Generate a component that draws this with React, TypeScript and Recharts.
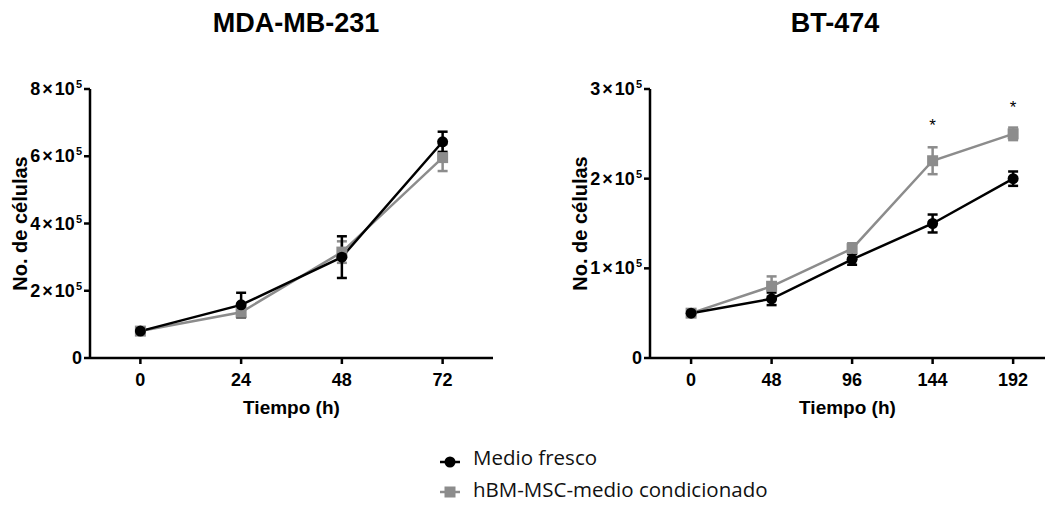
import React from 'react';
import { ComposedChart, Line, Scatter, XAxis, YAxis, ErrorBar, Label } from 'recharts';

// MDA-MB-231
const mdaHours = [0, 24, 48, 72];
const mdaFresco = [80000, 158000, 300000, 643000];
const mdaFrescoErr = [5000, 36000, 62000, 30000];
const mdaCond = [80000, 136000, 315000, 596000];
const mdaCondErr = [5000, 16000, 32000, 40000];

// BT-474
const btHours = [0, 48, 96, 144, 192];
const btFresco = [50000, 66000, 110000, 150000, 200000];
const btFrescoErr = [3000, 7000, 6000, 10000, 8000];
const btCond = [50000, 80000, 122000, 220000, 250000];
const btCondErr = [3000, 11000, 6000, 15000, 7000];
// significance marks (*) placed above the conditioned series
const btStars = [
  { t: 144, y: 263000 },
  { t: 192, y: 283000 },
];

const mdaTicksY = [0, 200000, 400000, 600000, 800000];
const btTicksY = [0, 100000, 200000, 300000];

const BLACK = '#000';
const GREY = '#8c8c8c';
const FONT = '"Liberation Sans", Arial, sans-serif';

const mdaData = mdaHours.map((t, i) => ({
  t,
  fresco: mdaFresco[i],
  frescoErr: mdaFrescoErr[i],
  cond: mdaCond[i],
  condErr: mdaCondErr[i],
}));

const btData = btHours.map((t, i) => ({
  t,
  fresco: btFresco[i],
  frescoErr: btFrescoErr[i],
  cond: btCond[i],
  condErr: btCondErr[i],
}));

const SciTick = (props: any) => {
  const { x, y, payload } = props;
  const v = payload.value;
  if (v === 0) {
    return (
      <text x={x} y={y} dy={6} textAnchor="end" fontSize={18} fontWeight="bold" fill="#000" fontFamily={FONT}>
        0
      </text>
    );
  }
  return (
    <text x={x} y={y} dy={6} textAnchor="end" fontSize={18} fontWeight="bold" fill="#000" fontFamily={FONT}>
      <tspan>{`${v / 100000}`}</tspan>
      <tspan dx={2}>×</tspan>
      <tspan dx={2}>10</tspan>
      <tspan dx={1} dy={-7} fontSize={11}>5</tspan>
    </text>
  );
};

const CircleDot = (props: any) => {
  const { cx, cy, key } = props;
  if (cx == null || cy == null) return null;
  return <circle key={key} cx={cx} cy={cy} r={5.5} fill={BLACK} />;
};

const SquareDot = (props: any) => {
  const { cx, cy, key } = props;
  if (cx == null || cy == null) return null;
  return <rect key={key} x={cx - 5.5} y={cy - 5.5} width={11} height={11} fill={GREY} />;
};

const StarShape = (props: any) => {
  const { cx, cy } = props;
  return (
    <text x={cx} y={cy + 9} textAnchor="middle" fontSize={17} fill="#000" fontFamily={FONT}>
      *
    </text>
  );
};

const axisProps = {
  axisLine: { stroke: '#000', strokeWidth: 2.5 },
  tickLine: { stroke: '#000', strokeWidth: 2.5 },
  tickSize: 6,
};

const xTick = { fill: '#000', fontSize: 18, fontWeight: 'bold', fontFamily: FONT };
const labelStyle = { fill: '#000', fontWeight: 'bold', fontFamily: FONT };

function Panel(props: {
  data: any[];
  xDomain: number[];
  xTicks: number[];
  yMax: number;
  yTicks: number[];
  width: number;
  right: number;
  stars?: any[];
}) {
  const { data, xDomain, xTicks, yMax, yTicks, width, right, stars } = props;
  return (
    <ComposedChart width={width} height={420} data={data} margin={{ top: 89, right, left: 0, bottom: 0 }}>
      <XAxis
        dataKey="t"
        type="number"
        domain={xDomain}
        ticks={xTicks}
        allowDataOverflow
        height={62}
        tick={xTick}
        tickMargin={9}
        {...axisProps}
      >
        <Label value="Tiempo (h)" position="insideBottom" offset={6} style={{ ...labelStyle, fontSize: 19 }} />
      </XAxis>
      <YAxis
        type="number"
        domain={[0, yMax]}
        ticks={yTicks}
        width={90}
        tick={<SciTick />}
        tickMargin={2}
        {...axisProps}
      >
        <Label
          value="No. de células"
          angle={-90}
          position="insideLeft"
          offset={20}
          style={{ ...labelStyle, fontSize: 20, textAnchor: 'middle' }}
        />
      </YAxis>
      <Line
        dataKey="cond"
        stroke={GREY}
        strokeWidth={2.5}
        dot={<SquareDot />}
        isAnimationActive={false}
      >
        <ErrorBar dataKey="condErr" direction="y" width={5} stroke={GREY} strokeWidth={2.5} />
      </Line>
      <Line
        dataKey="fresco"
        stroke={BLACK}
        strokeWidth={2.5}
        dot={<CircleDot />}
        isAnimationActive={false}
      >
        <ErrorBar dataKey="frescoErr" direction="y" width={5} stroke={BLACK} strokeWidth={2.5} />
      </Line>
      {stars && (
        <Scatter data={stars} dataKey="y" shape={<StarShape />} isAnimationActive={false} />
      )}
    </ComposedChart>
  );
}

const titleStyle: React.CSSProperties = {
  position: 'absolute',
  top: 10,
  fontFamily: FONT,
  fontWeight: 'bold',
  fontSize: 27,
  lineHeight: '27px',
  textAlign: 'center',
  width: 300,
};

const legendText: React.CSSProperties = {
  position: 'absolute',
  left: 473,
  fontFamily: '"Open Sans", sans-serif',
  fontSize: 20.5,
  lineHeight: '20px',
  color: '#111',
  whiteSpace: 'nowrap',
};

export default function App() {
  return (
    <div style={{ position: 'absolute', left: 0, top: 0, width: 1047, height: 505, background: '#fff', overflow: 'hidden' }}>
      <div style={{ ...titleStyle, left: 296 - 150 }}>MDA-MB-231</div>
      <div style={{ ...titleStyle, left: 835 - 150 }}>BT-474</div>

      <div style={{ position: 'absolute', left: 0, top: 0 }}>
        <Panel data={mdaData} xDomain={[-12, 84]} xTicks={mdaHours} yMax={800000} yTicks={mdaTicksY} width={520} right={27} />
      </div>
      <div style={{ position: 'absolute', left: 560, top: 0 }}>
        <Panel
          data={btData}
          xDomain={[-24.5, 211]}
          xTicks={btHours}
          yMax={300000}
          yTicks={btTicksY}
          width={487}
          right={2}
          stars={btStars}
        />
      </div>

      <svg style={{ position: 'absolute', left: 0, top: 0 }} width={1047} height={505}>
        <line x1={440} x2={460} y1={462} y2={462} stroke={BLACK} strokeWidth={2.5} />
        <circle cx={450} cy={462} r={5.5} fill={BLACK} />
        <line x1={440} x2={460} y1={492} y2={492} stroke={GREY} strokeWidth={2.5} />
        <rect x={444.5} y={486.5} width={11} height={11} fill={GREY} />
      </svg>
      <div style={{ ...legendText, top: 447 }}>Medio fresco</div>
      <div style={{ ...legendText, top: 479 }}>hBM-MSC-medio condicionado</div>
    </div>
  );
}
